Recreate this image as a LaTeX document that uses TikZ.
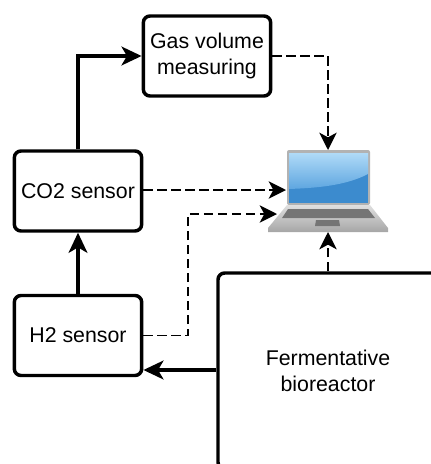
\documentclass[tikz,border=0pt]{standalone}
\usepackage{fontspec}
\setmainfont{Liberation Sans}
\usetikzlibrary{arrows.meta,calc}
\definecolor{screentop}{HTML}{5EA6E0}
\definecolor{screengloss}{HTML}{B0DAF7}
\definecolor{screenbot}{HTML}{3C8BCE}
\definecolor{keys}{HTML}{757575}
\begin{document}
\begin{tikzpicture}[
  x=0.75pt, y=-0.75pt,
  font=\fontsize{16}{19.5}\selectfont,
  box/.style={rectangle, rounded corners=5pt, draw=black, line width=2.6pt, align=center, inner sep=0pt,
              minimum width=95.5pt, minimum height=60pt},
  arr/.style={-{Stealth[length=15pt,width=14pt,inset=4pt]}, line width=3pt, draw=black},
  sig/.style={-{Stealth[length=13pt,width=13pt,inset=3.5pt]}, line width=1.2pt, dash pattern=on 7pt off 3.5pt, draw=black},
]
\useasboundingbox (0,0) rectangle (431,464);

% ---------------------------------------------------------------- sensors
\node[box] (gas) at (207,56) {Gas volume\\measuring};
\node[box] (co2) at (78,191) {CO2 sensor};
\node[box] (h2) at (78,335.5) {H2 sensor};

% ---------------------------------------------------------------- reactor, runs off the page
\node[box, minimum width=165pt, minimum height=147pt] (reactor) at (328,371) {Fermentative\\bioreactor};

% --------------------------------------------------------------- laptop
\fill[gray!60, rounded corners=1.5pt] (287,150) rectangle (370,205);
\fill[screenbot] (289,153) rectangle (368,203);
\shade[top color=screengloss, bottom color=screentop]
  (289,153) -- (368,153) -- (368,174) .. controls (345,186) and (315,188) .. (289,189) -- cycle;
\shade[top color=gray!25, bottom color=gray!70] (287,205) -- (370,205) -- (388,228) -- (388,232) -- (268,232) -- (268,228) -- cycle;
\fill[keys] (288,209) -- (368,209) -- (375,218) -- (282,218) -- cycle;
\fill[keys] (316,220) -- (339,220) -- (340,226) -- (315,226) -- cycle;
\coordinate (laptopn) at (328,150);
\coordinate (laptopw) at (286,190);
\coordinate (laptopl) at (277,214);
\coordinate (laptops) at (328,232);

% ---------------------------------------------------------------- flows
\draw[arr] (h2) -- (co2);
\draw[arr] (co2.north) |- (gas.west);
\draw[arr] (reactor.west |- 0,370) -- (h2.east |- 0,370);

\draw[sig] (gas.east) -| (laptopn);
\draw[sig] (co2.east |- laptopw) -- (laptopw);
\draw[sig] (h2.east) -- (188,335.5) |- (laptopl);
\draw[sig] (reactor.north -| laptops) -- (laptops);
\end{tikzpicture}
\end{document}
